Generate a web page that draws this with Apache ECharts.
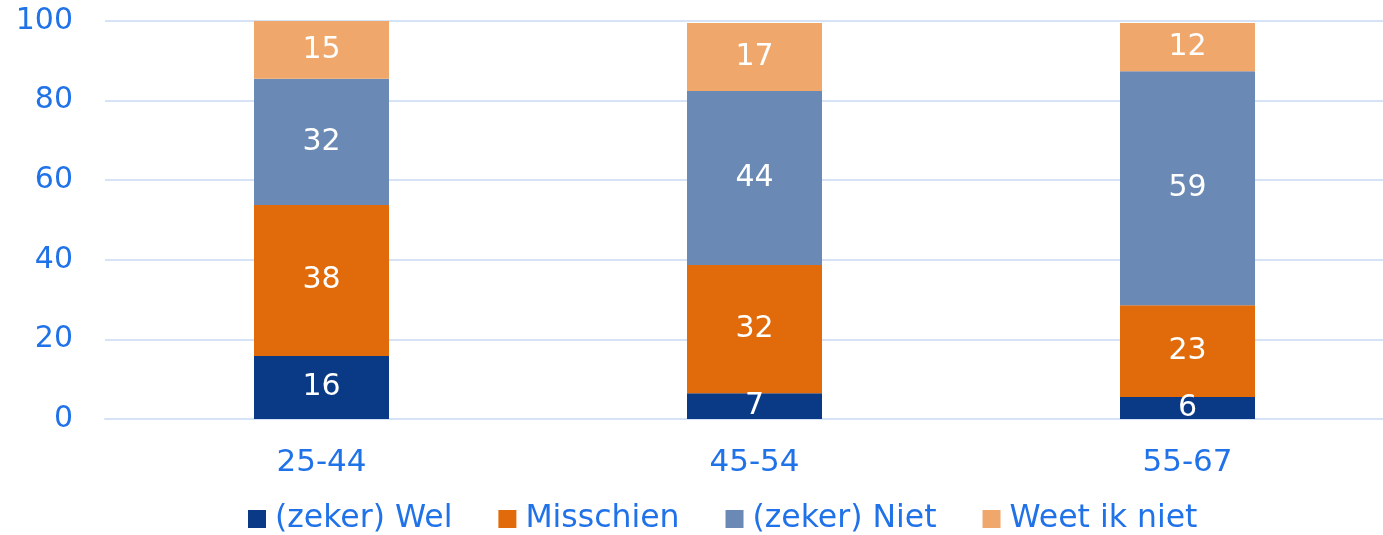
<!DOCTYPE html>
<html>
<head>
<meta charset="utf-8">
<script src="https://cdn.jsdelivr.net/npm/echarts@6/dist/echarts.min.js"></script>
<style>
  html, body { margin: 0; padding: 0; background: #ffffff; }
  #main { width: 1383px; height: 535px; }
</style>
</head>
<body>
<div id="main"></div>
<script>
// leeftijdsgroepen
const categories = ['25-44', '45-54', '55-67'];
const zekerWel = [15.8, 6.5, 5.5];
const misschien = [38.0, 32.2, 23.1];
const zekerNiet = [31.7, 43.7, 58.8];
const weetIkNiet = [14.6, 17.1, 12.1];
const yTicks = [0, 20, 40, 60, 80, 100];

const blue = '#2072e8';
const font = 'DejaVu Sans, Verdana, sans-serif';

const chart = echarts.init(document.getElementById('main'));

function makeSeries(name, data, color) {
  return {
    name: name,
    type: 'bar',
    stack: 'total',
    barWidth: 135,
    data: data,
    itemStyle: { color: color },
    label: {
      show: true,
      position: 'inside',
      color: '#ffffff',
      fontFamily: font,
      fontSize: 30,
      formatter: p => Math.round(p.value)
    }
  };
}

const option = {
  animation: false,
  backgroundColor: '#ffffff',
  textStyle: { fontFamily: font },
  grid: { left: 105, width: 1299, top: 21, bottom: 116, outerBoundsMode: 'none', containLabel: false },
  legend: {
    top: 498,
    left: 243,
    itemWidth: 18,
    itemHeight: 18,
    itemGap: 46,
    icon: 'rect',
    textStyle: { color: blue, fontSize: 31.5, fontFamily: font, padding: [0, 0, 0, 4] },
    data: ['(zeker) Wel', 'Misschien', '(zeker) Niet', 'Weet ik niet']
  },
  xAxis: {
    type: 'category',
    data: categories,
    axisLine: { show: true, lineStyle: { color: '#d6e2f5', width: 2 } },
    axisTick: { show: false },
    axisLabel: { color: blue, fontSize: 31, fontFamily: font, margin: 28 }
  },
  yAxis: {
    type: 'value',
    min: yTicks[0],
    max: yTicks[yTicks.length - 1],
    interval: 20,
    axisLine: { show: false },
    axisTick: { show: false },
    splitLine: { lineStyle: { color: '#d6e2f5', width: 2 } },
    axisLabel: { color: blue, fontSize: 30, fontFamily: font, margin: 32 }
  },
  series: [
    makeSeries('(zeker) Wel', zekerWel, '#0a3a85'),
    makeSeries('Misschien', misschien, '#e16b0b'),
    makeSeries('(zeker) Niet', zekerNiet, '#6a89b4'),
    makeSeries('Weet ik niet', weetIkNiet, '#efa76c')
  ]
};

chart.setOption(option);
</script>
</body>
</html>
